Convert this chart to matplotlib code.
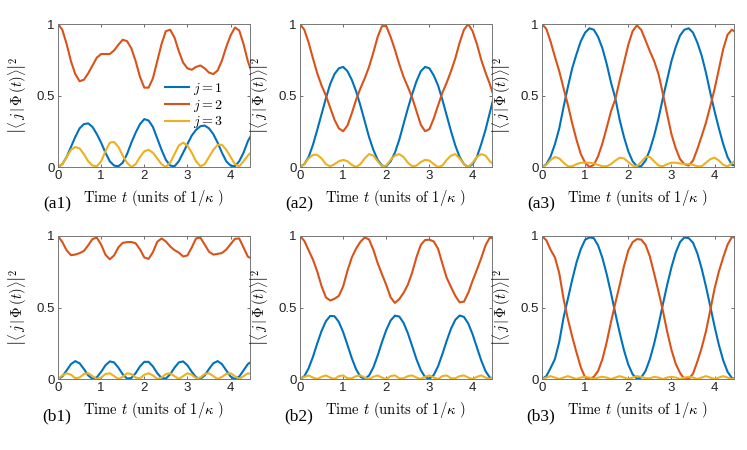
import numpy as np
import matplotlib
matplotlib.use("Agg")
import matplotlib.pyplot as plt

plt.rcParams['mathtext.fontset'] = 'cm'
plt.rcParams['axes.unicode_minus'] = False

# time grid (units of 1/kappa)
t = np.linspace(0, 4.5, 46)

# populations |<j|Phi(t)>|^2
a1_j1 = [0, .02, .07, .14, .21, .27, .30, .305, .28, .23, .17, .10, .04, .01, .005, .03,
         .09, .17, .24, .30, .335, .325, .28, .20, .12, .05, .01, .005, .04, .10, .16, .22,
         .26, .285, .29, .27, .23, .17, .10, .04, .01, .005, .04, .10, .18, .235]
a1_j2 = [1, .96, .86, .74, .65, .60, .61, .655, .71, .765, .79, .79, .79, .815, .855, .89,
         .88, .83, .74, .63, .555, .555, .62, .74, .86, .95, .96, .905, .81, .73, .69, .68,
         .70, .71, .69, .66, .65, .675, .745, .84, .92, .975, .955, .86, .74, .655]
a1_j3 = [0, .02, .07, .12, .14, .13, .09, .04, .01, .005, .04, .11, .17, .175, .14, .08,
         .03, 0, .02, .07, .11, .12, .10, .06, .02, 0, .03, .09, .15, .17, .15, .10,
         .04, .005, .02, .07, .12, .155, .155, .12, .07, .02, .005, .04, .08, .11]

a2_j1 = [0, .02, .07, .155, .26, .37, .48, .58, .65, .69, .70, .67, .61, .53, .43, .32,
         .21, .12, .05, .01, .005, .04, .10, .19, .30, .41, .51, .60, .67, .70, .69, .64,
         .57, .47, .36, .25, .15, .07, .02, 0, .02, .07, .16, .26, .38, .50]
a2_j2 = [1, .96, .87, .76, .655, .57, .50, .415, .33, .27, .25, .29, .375, .47, .55, .62,
         .70, .80, .91, .985, .985, .91, .82, .72, .63, .56, .485, .39, .295, .25, .265, .34,
         .43, .52, .59, .67, .76, .87, .96, 1.0, .95, .86, .75, .66, .58, .485]
a2_j3 = [0, .02, .06, .085, .085, .06, .02, .005, .02, .04, .05, .04, .015, 0, .02, .06,
         .09, .08, .04, .005, .01, .05, .08, .09, .07, .03, .005, .01, .035, .05, .045, .02,
         0, .01, .05, .08, .09, .06, .02, 0, .03, .07, .09, .08, .04, .015]

a3_j1 = [0, .019, .074, .16, .27, .42, .56, .69, .79, .88, .94, .97, .96, .91, .83, .72,
         .59, .48, .33, .21, .11, .04, .004, .006, .045, .12, .22, .34, .48, .61, .74, .84,
         .92, .96, .97, .94, .87, .78, .66, .52, .39, .27, .16, .07, .015, .01]
a3_j2 = [1, .966, .876, .77, .67, .55, .435, .305, .19, .09, .03, 0, .015, .075, .165, .275,
         .39, .475, .605, .73, .855, .95, .991, .959, .885, .81, .74, .65, .515, .37, .23, .13,
         .055, .02, .01, .045, .125, .215, .31, .425, .545, .685, .825, .925, .96, .94]
a3_j3 = [0, .015, .05, .07, .06, .03, .005, .005, .02, .03, .03, .03, .025, .015, .005, .005,
         .02, .045, .065, .06, .035, .01, .005, .035, .07, .07, .04, .01, .005, .02, .03, .03,
         .025, .02, .02, .015, .005, .005, .03, .055, .065, .045, .015, .005, .025, .05]

b1_j1 = [0, .017, .06, .104, .125, .11, .07, .025, .001, .012, .05, .096, .123, .116, .079, .033,
         .003, .007, .041, .088, .12, .12, .088, .041, .007, .003, .033, .079, .116, .123, .096, .05,
         .012, .001, .025, .07, .11, .125, .104, .06, .017, 0, .017, .06, .104, .125]
b1_j2 = [1, .958, .90, .866, .87, .88, .895, .935, .979, .988, .94, .869, .837, .864, .921, .952,
         .957, .958, .949, .907, .85, .84, .887, .959, .983, .962, .927, .901, .884, .857, .864, .92,
         .983, .989, .94, .89, .87, .875, .881, .905, .943, .98, .983, .92, .856, .84]
b1_j3 = [0, .025, .04, .03, .005, .01, .035, .04, .02, 0, .01, .035, .04, .02, 0, .015,
         .04, .035, .01, .005, .03, .04, .025, 0, .01, .035, .04, .02, 0, .02, .04, .03,
         .005, .01, .035, .04, .02, 0, .015, .035, .04, .02, 0, .02, .04, .035]

b2_j1 = [0, .019, .075, .155, .249, .336, .404, .441, .439, .399, .328, .238, .146, .068, .016, 0,
         .024, .081, .164, .258, .343, .409, .443, .437, .393, .320, .230, .138, .062, .013, .001, .028,
         .089, .174, .267, .352, .414, .444, .434, .388, .313, .221, .130, .055, .010, .002]
b2_j2 = [1, .966, .90, .835, .751, .649, .571, .549, .561, .581, .647, .757, .849, .912, .959, .99,
         .976, .904, .811, .732, .657, .571, .532, .558, .602, .66, .745, .852, .938, .972, .974, .962,
         .911, .806, .708, .643, .581, .536, .541, .602, .687, .764, .845, .935, .99, .978]
b2_j3 = [0, .015, .025, .01, 0, .015, .025, .01, 0, .02, .025, .005, .005, .02, .025, .01,
         0, .015, .025, .01, 0, .02, .025, .005, .005, .02, .025, .01, 0, .015, .025, .01,
         0, .02, .025, .005, .005, .02, .025, .01, 0, .015, .025, .01, 0, .02]

b3_j1 = [0, .02, .077, .14, .26, .43, .561, .694, .815, .909, .974, .99, .985, .934, .847, .732,
         .60, .458, .324, .201, .101, .033, .002, .01, .057, .138, .248, .378, .52, .657, .781, .885,
         .958, .99, .985, .953, .879, .773, .647, .509, .367, .238, .13, .051, .007, .003]
b3_j2 = [1, .97, .903, .85, .74, .56, .419, .296, .185, .081, .011, 0, .015, .056, .138, .258,
         .40, .532, .656, .789, .899, .957, .978, .975, .938, .857, .737, .612, .48, .333, .204, .105,
         .042, 0, 0, .037, .121, .217, .333, .481, .633, .752, .85, .939, .993, .987]
b3_j3 = [0, .01, .02, .01, 0, .01, .02, .01, 0, .01, .015, .01, 0, .01, .015, .01,
         0, .01, .02, .01, 0, .01, .02, .015, .005, .005, .015, .01, 0, .01, .015, .01,
         0, .01, .015, .01, 0, .01, .02, .01, 0, .01, .02, .01, 0, .01]

panels = [
    ('(a1)', a1_j1, a1_j2, a1_j3),
    ('(a2)', a2_j1, a2_j2, a2_j3),
    ('(a3)', a3_j1, a3_j2, a3_j3),
    ('(b1)', b1_j1, b1_j2, b1_j3),
    ('(b2)', b2_j1, b2_j2, b2_j3),
    ('(b3)', b3_j1, b3_j2, b3_j3),
]

colors = ['#0072BD', '#D95319', '#EDB120']
W, H = 747, 450
lefts = [58, 300, 542]
tops = [24, 236]
aw, ah = 192, 143

fig = plt.figure(figsize=(W / 100, H / 100), dpi=100)

for k, (tag, y1, y2, y3) in enumerate(panels):
    row, col = divmod(k, 3)
    x0, y0 = lefts[col], tops[row]
    ax = fig.add_axes([x0 / W, 1 - (y0 + ah) / H, aw / W, ah / H])
    ax.plot(t, y1, color=colors[0], lw=1.5, label=r'$j=1$')
    ax.plot(t, y2, color=colors[1], lw=1.5, label=r'$j=2$')
    ax.plot(t, y3, color=colors[2], lw=1.5, label=r'$j=3$')
    ax.set_xlim(0, 4.45)
    ax.set_ylim(0, 1)
    ax.set_xticks([0, 1, 2, 3, 4])
    ax.set_yticks([0, 0.5, 1])
    ax.set_yticklabels(['0', '0.5', '1'])
    ax.tick_params(direction='in', top=True, right=True, length=2.5, width=0.6,
                   color='#555555', labelsize=9.5, pad=2.5)
    for lab in ax.get_xticklabels() + ax.get_yticklabels():
        lab.set_family('Liberation Sans')
        lab.set_color('#222222')
    for sp in ax.spines.values():
        sp.set_color('#777777')
        sp.set_linewidth(0.7)
    ax.set_xlabel(r'Time $t$ (units of $1/\kappa$ )', family='cmr10', fontsize=10.5)
    ax.xaxis.set_label_coords(0.5, -0.15)
    ax.set_ylabel(r'$\left|\langle\, j\,|\,\Phi\,(t)\rangle\right|^2$', fontsize=10.5)
    ax.yaxis.set_label_coords(-0.15, 0.5)
    fig.text((x0 - 1) / W, 1 - (y0 + 180) / H, tag, family='Liberation Serif',
             fontsize=12.5, ha='center', va='center')
    if k == 0:
        ax.legend(loc='upper left', bbox_to_anchor=(0.53, 0.64), frameon=False,
                  fontsize=10, handlelength=1.7, handletextpad=0.3,
                  labelspacing=0.05, borderaxespad=0)

fig.savefig('out.png', dpi=100)
